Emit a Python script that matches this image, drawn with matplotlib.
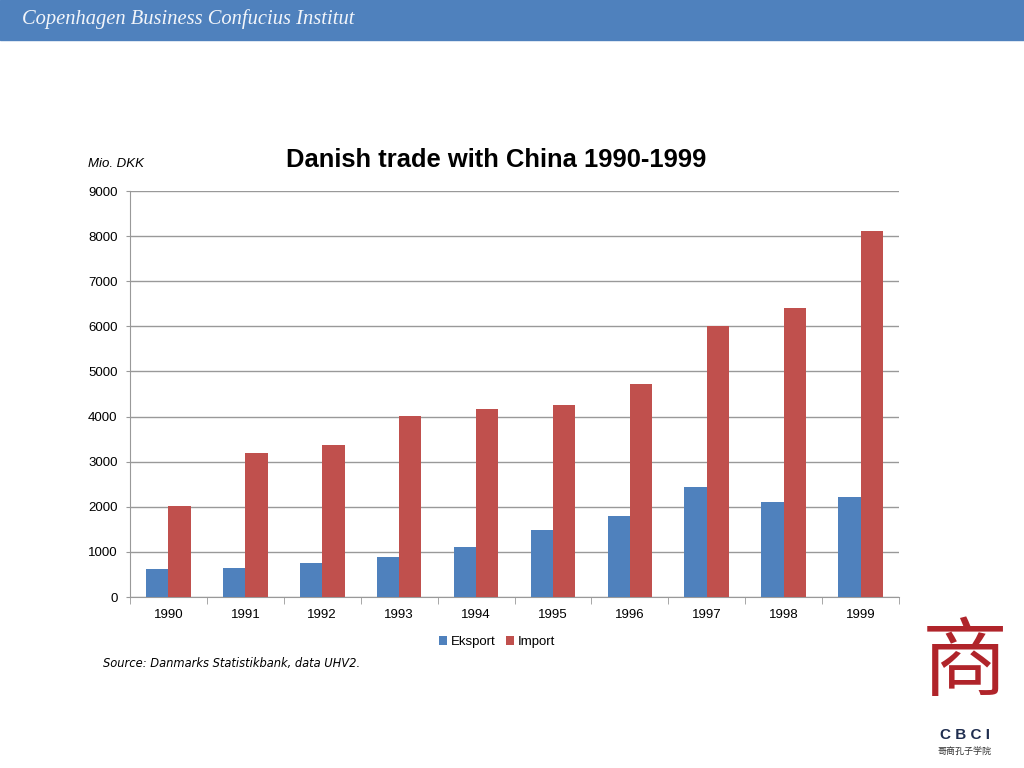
import matplotlib
matplotlib.use("Agg")
import matplotlib.pyplot as plt
import numpy as np

# Danish trade with China, mio. DKK
years = ["1990", "1991", "1992", "1993", "1994", "1995", "1996", "1997", "1998", "1999"]
eksport = [620, 640, 750, 880, 1110, 1480, 1790, 2430, 2100, 2210]
import_ = [2020, 3190, 3370, 4010, 4170, 4260, 4720, 6010, 6410, 8110]

blue = "#4F81BD"
red = "#C0504D"

plt.rcParams['font.family'] = ['Liberation Sans', 'DejaVu Sans']

fig = plt.figure(figsize=(10.24, 7.68), dpi=100)

# header band
fig.patches.append(plt.Rectangle((0, 1 - 40 / 768), 1, 40 / 768, transform=fig.transFigure,
                                 color="#4F81BD", zorder=0))
fig.text(22 / 1024, 1 - 19 / 768, "Copenhagen Business Confucius Institut", color="#F2F5FA",
         fontsize=14.8, style="italic", family="Liberation Serif", va="center")

ax = fig.add_axes([130 / 1024, 1 - 597 / 768, 769 / 1024, 406 / 768])

x = np.arange(len(years))
w = 0.29
ax.bar(x - w / 2, eksport, w, color=blue, label="Eksport", zorder=3)
ax.bar(x + w / 2, import_, w, color=red, label="Import", zorder=3)

ax.set_xlim(-0.5, len(years) - 0.5)
ax.set_ylim(0, 9000)
ax.set_yticks(range(0, 9001, 1000))
ax.yaxis.grid(True, color="#999999", linewidth=1, zorder=0)
ax.set_xticks(x)
ax.set_xticklabels(years)
ax.set_xticks(np.arange(-0.5, len(years)), minor=True)
ax.tick_params(axis="x", which="major", length=0, pad=9, labelsize=9.5)
ax.tick_params(axis="x", which="minor", length=5, color="#999999")
ax.tick_params(axis="y", length=3, color="#999999", labelsize=9.5, pad=6)
for s in ["top", "right"]:
    ax.spines[s].set_visible(False)
for s in ["left", "bottom"]:
    ax.spines[s].set_color("#999999")

fig.text(496 / 1024, 1 - 160 / 768, "Danish trade with China 1990-1999", fontsize=18.4,
         fontweight="bold", ha="center", va="center")
fig.text(88 / 1024, 1 - 164 / 768, "Mio. DKK", fontsize=9.5, style="italic", va="center")

fig.legend(loc="center", bbox_to_anchor=(497 / 1024, 1 - 642 / 768), ncol=2, frameon=False,
           fontsize=9.5, handlelength=0.6, handleheight=0.6, handletextpad=0.3, columnspacing=0.8)

fig.text(103 / 1024, 1 - 664 / 768, "Source: Danmarks Statistikbank, data UHV2.", fontsize=8.3,
         style="italic", family="DejaVu Sans", va="center")

# logo
fig.text(965 / 1024, 1 - 665 / 768, "商", fontsize=62, color="#B0242A",
         family="Noto Sans CJK SC", ha="center", va="center")
fig.text(965 / 1024, 1 - 735 / 768, "C B C I", fontsize=11, color="#1F2D4F",
         fontweight="bold", ha="center", va="center")
fig.text(965 / 1024, 1 - 752 / 768, "哥商孔子学院", fontsize=6.5, color="#333333",
         family="Noto Sans CJK SC", ha="center", va="center")

fig.savefig("out.png", dpi=100)
